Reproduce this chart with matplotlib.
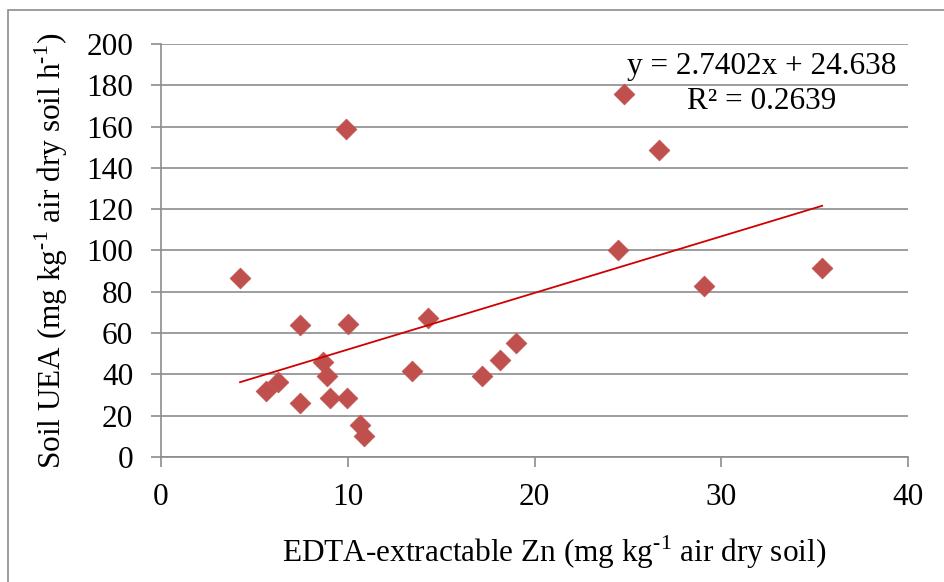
import matplotlib
matplotlib.use('Agg')
import matplotlib.pyplot as plt
from matplotlib.patches import Rectangle

# Values
zn = [4.23, 9.9, 5.62, 6.27, 7.44, 7.44, 8.67, 8.89, 9.05, 10.0, 9.96, 10.66,
      10.87, 13.44, 14.3, 17.19, 18.15, 19.0, 24.47, 24.8, 26.67, 29.08, 35.4]
uea = [86.7, 159.0, 32.0, 36.3, 63.9, 26.1, 46.0, 39.2, 28.6, 64.4, 28.6, 15.5,
       10.2, 41.6, 67.3, 39.2, 47.0, 55.2, 100.2, 176.0, 148.5, 82.8, 91.5]

# Linear trendline as printed on the chart
slope = 2.7402
intercept = 24.638
r2 = 0.2639

x_ticks = [0, 10, 20, 30, 40]
y_ticks = list(range(0, 201, 20))

plt.rcParams['font.family'] = ['Liberation Serif', 'DejaVu Serif']

fig = plt.figure(figsize=(9.44, 5.82), dpi=100)
ax = fig.add_axes([0.1706, 0.2148, 0.7913, 0.7096])

# Outer chart border (only top and left visible in the original)
fig.patches.append(Rectangle((8 / 944, -0.1), 1.2, 1 - 10 / 582 + 0.1,
                             transform=fig.transFigure, fill=False,
                             edgecolor='#8c8c8c', linewidth=1.2))

ax.scatter(zn, uea, marker='D', s=112, color='#C0504D', edgecolor='#C0504D',
           linewidth=0.5, zorder=3)

x_line = [min(zn), max(zn)]
y_line = [slope * v + intercept for v in x_line]
ax.plot(x_line, y_line, color='#D00000', linewidth=1.3, zorder=4)

ax.set_xlim(0, 40)
ax.set_ylim(0, 200)
ax.set_xticks(x_ticks)
ax.set_yticks(y_ticks)
ax.yaxis.grid(True, color='#8c8c8c', linewidth=1.2)
ax.set_axisbelow(True)

for side in ['top', 'right']:
    ax.spines[side].set_visible(False)
for side in ['left', 'bottom']:
    ax.spines[side].set_color('#8c8c8c')
    ax.spines[side].set_linewidth(1.2)

fs = 22.5
ax.tick_params(axis='both', direction='out', length=7, width=1.2,
               color='#8c8c8c', labelsize=fs, labelcolor='black')
ax.tick_params(axis='y', pad=13)
ax.tick_params(axis='x', pad=12)

# superscript "-1" keeps a plain hyphen like the original (U+2010)
sup = '$^{\\mathregular{\u20101}}$'
ax.set_xlabel('EDTA-extractable Zn (mg kg' + sup + ' air dry soil)', fontsize=fs)
ax.set_ylabel('Soil UEA (mg kg' + sup + ' air dry soil h' + sup + ')', fontsize=fs,
              labelpad=12)
ax.xaxis.set_label_coords(0.526, -0.185)

ax.text(0.8046, 0.9467, 'y = %.4fx + %.3f' % (slope, intercept),
        transform=ax.transAxes, ha='center', va='center', fontsize=fs)
ax.text(0.8046, 0.8596, 'R² = %.4f' % r2,
        transform=ax.transAxes, ha='center', va='center', fontsize=fs)

fig.savefig('out.png', dpi=100)
